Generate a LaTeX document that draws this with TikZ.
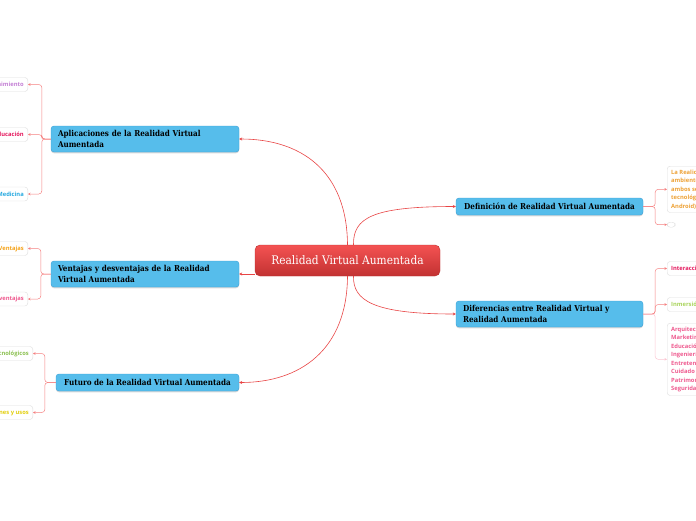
\documentclass[tikz,border=0pt]{standalone}
\usepackage{fontspec}
\newfontfamily\slab[FakeStretch=0.88,BoldFont={DejaVu Serif Bold}]{DejaVu Serif}
\newfontfamily\hubfont[FakeStretch=0.9]{DejaVu Serif}
\newfontfamily\leaf{Open Sans}
\newcommand\topicfont{\slab\bfseries\fontsize{8.2}{10.6}\selectfont\hyphenpenalty=10000\relax}
\usetikzlibrary{arrows.meta,shadows,calc}
\definecolor{hubtop}{HTML}{F45252}
\definecolor{hubbot}{HTML}{C23232}
\definecolor{hubedge}{HTML}{B83030}
\definecolor{topicfill}{HTML}{56BDEB}
\definecolor{topicedge}{HTML}{3A9FD6}
\definecolor{mainline}{HTML}{E84545}
\definecolor{twigline}{HTML}{F58080}
\definecolor{paleline}{HTML}{FBC6D2}
\definecolor{leafedge}{HTML}{DDDDDD}
\definecolor{cpurple}{HTML}{C47FD5}
\definecolor{ccrimson}{HTML}{E5195E}
\definecolor{ccyan}{HTML}{26A9E0}
\definecolor{corange}{HTML}{F5A31A}
\definecolor{cpink}{HTML}{EF5A8F}
\definecolor{cgreen}{HTML}{8CC152}
\definecolor{cyellow}{HTML}{E3CF10}
\definecolor{cdeforange}{HTML}{EEA236}
\definecolor{clime}{HTML}{A9D45B}
\tikzset{
  hub/.style={draw=hubedge, rounded corners=5pt, top color=hubtop, bottom color=hubbot,
    minimum width=185pt, minimum height=31pt, inner sep=0pt, text=white,
    font=\hubfont\fontsize{11.8}{13}\selectfont},
  topic/.style={draw=topicedge, fill=topicfill, rounded corners=3pt,
    drop shadow={shadow xshift=0pt, shadow yshift=-1.3pt, opacity=0.3},
    font=\topicfont, align=left,
    inner xsep=7pt, inner ysep=0pt},
  oneline/.style={topic, text depth=0pt, minimum height=17pt},
  twoline/.style={topic, minimum height=26pt},
  leafbox/.style={draw=leafedge, fill=white, rounded corners=3pt,
    font=\leaf\bfseries\fontsize{5.8}{8.5}\selectfont, inner xsep=4pt, inner ysep=0pt,
    minimum height=14pt},
  main/.style={draw=mainline, line width=0.6pt, -{Stealth[length=3pt,width=3pt]}},
  twig/.style={draw=twigline, line width=0.5pt, rounded corners=3pt, -{Stealth[length=2.5pt,width=2.5pt]}},
  paletwig/.style={draw=paleline, line width=0.5pt, rounded corners=3pt, -{Stealth[length=2.5pt,width=2.5pt]}},
}
\begin{document}
\begin{tikzpicture}[x=1pt,y=-1pt]
\useasboundingbox (0,0) rectangle (696,520);
\clip (0,0) rectangle (696,520);

% hub
\node[hub] (hub) at (347.5,260.5) {Realidad Virtual Aumentada};

% topics
\node[twoline, text width=174pt] (apl) at (145,139)
  {Aplicaciones de la Realidad Virtual\\Aumentada};
\node[twoline, text width=174pt] (ven) at (145,274)
  {Ventajas y desventajas de la Realidad\\Virtual Aumentada};
\node[oneline, minimum width=183pt] (fut) at (147.5,382.5)
  {Futuro de la Realidad Virtual Aumentada};
\node[oneline, minimum width=187pt] (def) at (549.5,206.5)
  {Definición de Realidad Virtual Aumentada};
\node[twoline, text width=173pt] (dif) at (549.5,314)
  {Diferencias entre Realidad Virtual y\\Realidad Aumentada};

% main connectors
\draw[main] (hub.north) .. controls (347,170) and (300,139) .. (apl.east);
\draw[main] (hub.west |- ven.east) -- (ven.east);
\draw[main] (hub.south) .. controls (347,350) and (300,382.5) .. (fut.east);
\draw[main] ([xshift=6pt]hub.north) .. controls (353,218) and (372,206.5) .. (def.west);
\draw[main] ([xshift=6pt]hub.south) .. controls (353,300) and (372,314) .. (dif.west);

% left leaves
\node[leafbox, text=cpurple, anchor=east] (l1) at (28,84.5) {Entretenimiento};
\node[leafbox, text=ccrimson, anchor=east] (l2) at (28,134.5) {Educación};
\node[leafbox, text=ccyan, anchor=east] (l3) at (28,194) {Medicina};
\node[leafbox, text=corange, anchor=east] (v1) at (28,248.5) {Ventajas};
\node[leafbox, text=cpink, anchor=east] (v2) at (28,299) {Desventajas};
\node[leafbox, text=cgreen, anchor=east] (f1) at (33,353.5) {Avances tecnológicos};
\node[leafbox, text=cyellow, anchor=east] (f2) at (33,412.5) {Nuevas aplicaciones y usos};

\draw[twig] (apl.west) -- ++(-9,0) |- (l1.east);
\draw[twig] (apl.west) -- ++(-9,0) |- (l2.east);
\draw[twig] (apl.west) -- ++(-9,0) |- (l3.east);
\draw[twig] (ven.west) -- ++(-10,0) |- (v1.east);
\draw[twig] (ven.west) -- ++(-10,0) |- (v2.east);
\draw[twig] (fut.west) -- ++(-11,0) |- (f1.east);
\draw[twig] (fut.west) -- ++(-11,0) |- (f2.east);

% right leaves
\node[leafbox, text=cdeforange, anchor=north west, align=left, inner ysep=3.5pt] (d1) at (667,166)
  {La Realidad Virtual Aumentada combina el\\ambiente real con elementos virtuales, y\\ambos se visualizan mediante dispositivos\\tecnológicos (smartphones, tablets iOS o\\Android).};
\node[leafbox, anchor=north west, minimum width=8pt, minimum height=5pt, inner sep=0pt] (d2) at (667,222) {};

\node[leafbox, text=ccrimson, anchor=west] (r1) at (667,268.5) {Interacción};
\node[leafbox, text=clime, anchor=west] (r2) at (667,304.5) {Inmersión};
\node[leafbox, text=cpink, anchor=north west, align=left, inner ysep=3.5pt] (r3) at (667,323)
  {Arquitectura\\Marketing\\Educación\\Ingeniería\\Entretenimiento\\Cuidado de la salud\\Patrimonio cultural\\Seguridad};

\draw[twig] (def.east) -- ++(12,0) |- (d1.west);
\draw[twig] (def.east) -- ++(12,0) |- (d2.west);
\draw[twig] (dif.east) -- ++(12,0) |- (r1.west);
\draw[twig] (dif.east) -- ++(12,0) |- (r2.west);
\draw[paletwig] (dif.east) -- ++(12,0) |- (r3.west);
\end{tikzpicture}
\end{document}
